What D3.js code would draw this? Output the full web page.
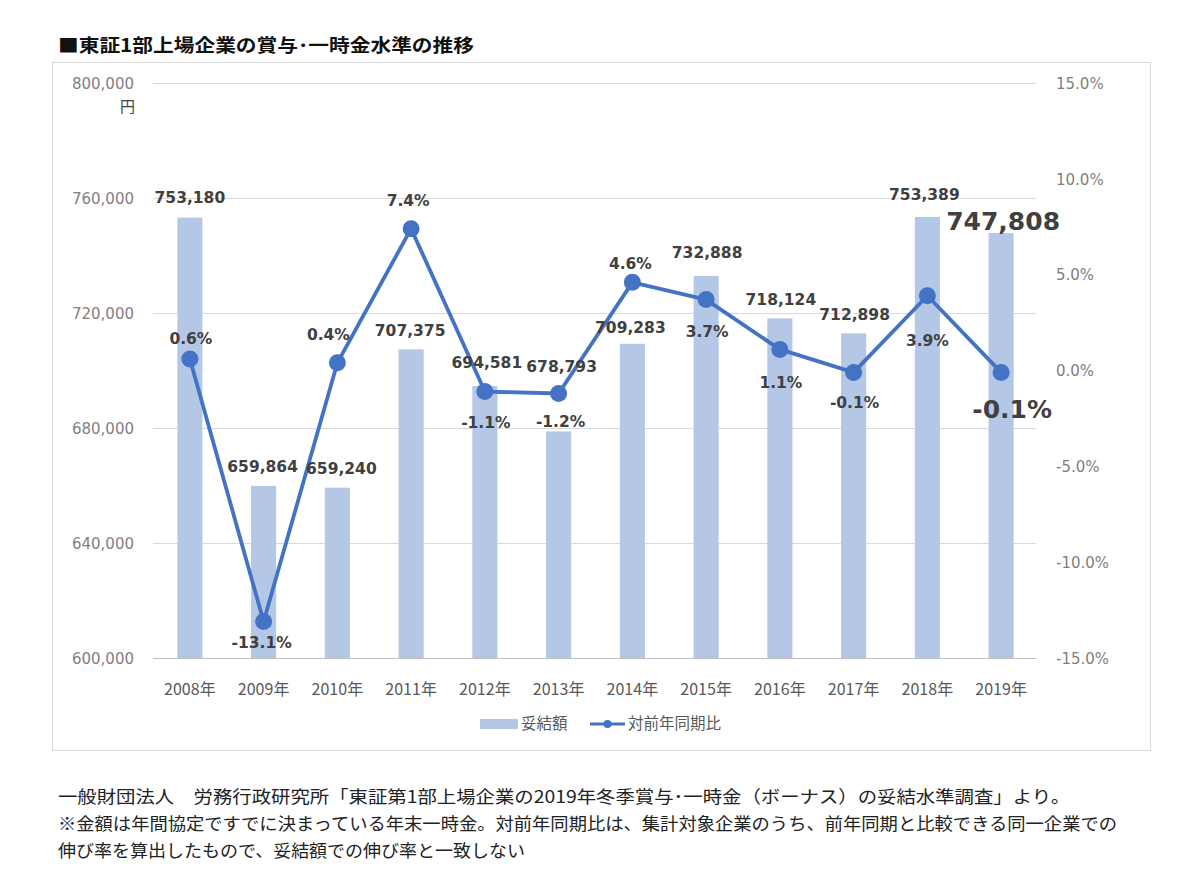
<!DOCTYPE html>
<html><head><meta charset="utf-8">
<script src="https://cdn.jsdelivr.net/npm/d3@7"></script>
<style>
body{margin:0;background:#fff;}
</style></head>
<body><svg id="c" width="1200" height="891"></svg>
<script>
const years = ["2008年","2009年","2010年","2011年","2012年","2013年","2014年","2015年","2016年","2017年","2018年","2019年"];
const amounts = [753180,659864,659240,707375,694581,678793,709283,732888,718124,712898,753389,747808];
const growth = [0.6,-13.1,0.4,7.4,-1.1,-1.2,4.6,3.7,1.1,-0.1,3.9,-0.1];
const leftTicks = [600000,640000,680000,720000,760000,800000];
const rightTicks = [-15,-10,-5,0,5,10,15];
const seriesNames = ["妥結額","対前年同期比"];
const title = "■東証1部上場企業の賞与･一時金水準の推移";
const notes = [
 "一般財団法人　労務行政研究所「東証第1部上場企業の2019年冬季賞与･一時金（ボーナス）の妥結水準調査」より。",
 "※金額は年間協定ですでに決まっている年末一時金。対前年同期比は、集計対象企業のうち、前年同期と比較できる同一企業での",
 "伸び率を算出したもので、妥結額での伸び率と一致しない"
];

// layout only
const noteWidths = [1012,1059,467];
const barLblOff = [[0,-20],[-1,-19],[4,-19],[-1,-19],[2,-24],[3,-65],[-2,-16],[1,-23],[1,-19],[1,-19],[-3,-22],[2,-12]];
const lineLblOff = [[1,-20],[-2,21],[-9,-28],[-3,-28],[1,31],[2,28],[-2,-19],[1,32],[1,33],[1,30],[0,45],[11,37]];

const svg = d3.select("#c");
const barColor = "#b4c7e7", lineColor = "#4472c4", lblColor = "#404040", axColor = "#7f7f7f";
const numFont = "'DejaVu Sans',sans-serif";
const jpFont = "'Noto Sans CJK JP','Noto Sans',sans-serif";

svg.append("text").attr("x",58).attr("y",52).attr("font-size",18).attr("font-weight","bold").attr("fill","#111")
 .style("font-family",jpFont).attr("textLength",416).attr("lengthAdjust","spacingAndGlyphs").text(title);
svg.append("rect").attr("x",52.5).attr("y",62.5).attr("width",1098).attr("height",688).attr("fill","#fff").attr("stroke","#d9d9d9");

const x = d3.scaleBand().domain(years).range([153,1038]).paddingInner(0.66).paddingOuter(0.33);
const yL = d3.scaleLinear().domain([600000,800000]).range([658,83]);
const yR = d3.scaleLinear().domain([-15,15]).range([658,83]);
const cx = d => x(d)+x.bandwidth()/2;

// gridlines
svg.append("g").selectAll("line").data(leftTicks).join("line")
 .attr("x1",153).attr("x2",1036).attr("y1",d=>yL(d)+0.5).attr("y2",d=>yL(d)+0.5)
 .attr("stroke",d=>d===600000?"#bfbfbf":"#d9d9d9").attr("stroke-width",1);

// left axis
const gl = svg.append("g").attr("transform","translate(134,0)")
 .call(d3.axisLeft(yL).tickValues(leftTicks).tickFormat(d3.format(",")).tickSize(0).tickPadding(0));
gl.select(".domain").remove();
gl.selectAll("text").attr("font-size",15).attr("fill",axColor).style("font-family",numFont).attr("dy","0.35em");
svg.append("text").attr("x",135).attr("y",112).attr("text-anchor","end").attr("font-size",15).attr("fill","#404040").style("font-family",jpFont).text("円");

// right axis
const gr = svg.append("g").attr("transform","translate(1056,0)")
 .call(d3.axisRight(yR).tickValues(rightTicks).tickFormat(d=>d.toFixed(1)+"%").tickSize(0).tickPadding(0));
gr.select(".domain").remove();
gr.selectAll("text").attr("font-size",15).attr("fill",axColor).style("font-family",numFont).attr("dy","0.35em");

// x axis
const gx = svg.append("g").attr("transform","translate(0,658)")
 .call(d3.axisBottom(x).tickSize(0).tickPadding(26));
gx.select(".domain").remove();
gx.selectAll("text").attr("font-size",16).attr("fill","#595959").style("font-family",jpFont);

// bars
svg.append("g").selectAll("rect").data(amounts).join("rect")
 .attr("x",(d,i)=>x(years[i])).attr("width",x.bandwidth())
 .attr("y",d=>yL(d)).attr("height",d=>658-yL(d)).attr("fill",barColor);

// line
const line = d3.line().x((d,i)=>cx(years[i])).y(d=>yR(d));
svg.append("path").datum(growth).attr("d",line).attr("fill","none").attr("stroke",lineColor).attr("stroke-width",3.8).attr("stroke-linejoin","round");
svg.append("g").selectAll("circle").data(growth).join("circle")
 .attr("cx",(d,i)=>cx(years[i])).attr("cy",d=>yR(d)).attr("r",8.5).attr("fill",lineColor);

// bar labels
svg.append("g").selectAll("text").data(amounts).join("text")
 .attr("x",(d,i)=>cx(years[i])+barLblOff[i][0]).attr("y",(d,i)=>yL(d)+barLblOff[i][1])
 .attr("text-anchor","middle").attr("dy","0.35em").style("font-family",numFont)
 .attr("font-size",(d,i)=>i===11?25:15.5).attr("font-weight","bold").attr("fill",lblColor)
 .text(d=>d3.format(",")(d));

// line labels
svg.append("g").selectAll("text").data(growth).join("text")
 .attr("x",(d,i)=>cx(years[i])+lineLblOff[i][0]).attr("y",(d,i)=>yR(d)+lineLblOff[i][1])
 .attr("text-anchor","middle").attr("dy","0.35em").style("font-family",numFont)
 .attr("font-size",(d,i)=>i===11?25:15.5).attr("font-weight","bold").attr("fill",lblColor)
 .text(d=>d.toFixed(1)+"%");

// legend
const lg = svg.append("g");
lg.append("rect").attr("x",480).attr("y",719).attr("width",38).attr("height",10).attr("fill",barColor);
lg.append("text").attr("x",521).attr("y",724).attr("dy","0.35em").attr("font-size",15.5).attr("fill","#595959").style("font-family",jpFont).text(seriesNames[0]);
lg.append("line").attr("x1",590).attr("x2",625).attr("y1",724).attr("y2",724).attr("stroke",lineColor).attr("stroke-width",3);
lg.append("circle").attr("cx",607.5).attr("cy",724).attr("r",4).attr("fill",lineColor);
lg.append("text").attr("x",628).attr("y",724).attr("dy","0.35em").attr("font-size",15.5).attr("fill","#595959").style("font-family",jpFont).text(seriesNames[1]);

// notes
svg.append("g").selectAll("text").data(notes).join("text")
 .attr("x",58).attr("y",(d,i)=>803+i*27).attr("font-size",17.5).attr("fill","#222").style("font-family",jpFont)
 .attr("textLength",(d,i)=>noteWidths[i]).attr("lengthAdjust","spacingAndGlyphs").text(d=>d);
</script></body></html>
